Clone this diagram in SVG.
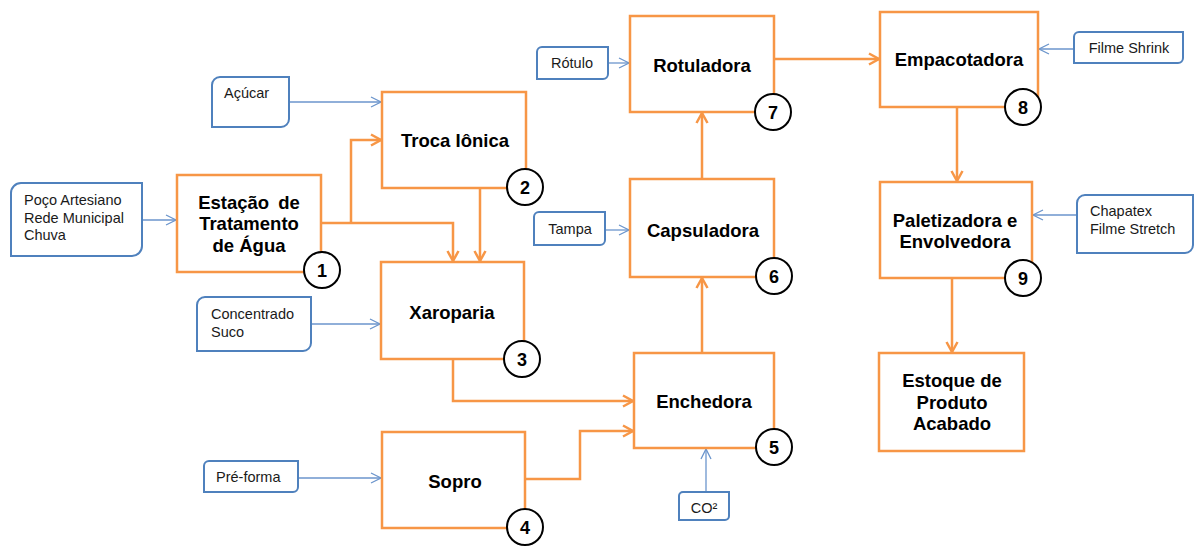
<svg xmlns="http://www.w3.org/2000/svg" width="1195" height="547" viewBox="0 0 1195 547">
<style>
.box{fill:#fff;stroke:#F79646;stroke-width:2.5}
.inp{fill:#fff;stroke:#4F81BD;stroke-width:2}
.num{fill:#fff;stroke:#000;stroke-width:2}
.t{font-family:"Liberation Sans",Arial,sans-serif;font-weight:bold;font-size:18.5px;fill:#000;text-anchor:middle}
.n{font-family:"Liberation Sans",Arial,sans-serif;font-weight:bold;font-size:18px;fill:#000;text-anchor:middle}
.s{font-family:"Liberation Sans",Arial,sans-serif;font-size:14.5px;fill:#1a1a1a}
.oc{fill:none;stroke:#F79646;stroke-width:2.5;marker-end:url(#ao)}
.bc{fill:none;stroke:#6B95CC;stroke-width:1.3;marker-end:url(#ab)}
</style>
<defs>
<marker id="ao" markerUnits="userSpaceOnUse" markerWidth="14" markerHeight="14" refX="11" refY="7" orient="auto"><path d="M1,1.5 L11,7 L1,12.5" fill="none" stroke="#F79646" stroke-width="2.5"/></marker>
<marker id="ab" markerUnits="userSpaceOnUse" markerWidth="14" markerHeight="14" refX="11" refY="7" orient="auto"><path d="M1,2 L11,7 L1,12" fill="none" stroke="#6B95CC" stroke-width="1.3"/></marker>
</defs>
<g id="connectors">
<path class="oc" d="M321,223 H453 V261"/>
<path class="oc" d="M351,223 V140 H381"/>
<path class="oc" d="M480,188 V261"/>
<path class="oc" d="M453,359 V401 H633"/>
<path class="oc" d="M525,479 H580 V431 H633"/>
<path class="oc" d="M702,353 V278"/>
<path class="oc" d="M702,179 V113"/>
<path class="oc" d="M774,59 H879"/>
<path class="oc" d="M957,107 V181"/>
<path class="oc" d="M952,278 V352"/>
<path class="bc" d="M142,220 H176"/>
<path class="bc" d="M289,102 H381"/>
<path class="bc" d="M311,324 H380"/>
<path class="bc" d="M298,478 H381"/>
<path class="bc" d="M605,230 H629"/>
<path class="bc" d="M608,63 H629"/>
<path class="bc" d="M706,492 V449"/>
<path class="bc" d="M1074,49 H1039"/>
<path class="bc" d="M1077,215 H1033"/>
</g>
<g id="in-poco"><path class="inp" d="M21,183 H142 V246 A10 10 0 0 1 132,256 H11 V193 A10 10 0 0 1 21,183 Z"/><text class="s" x="24" y="205">Poço Artesiano</text><text class="s" x="24" y="223">Rede Municipal</text><text class="s" x="24" y="240">Chuva</text></g>
<g id="in-acucar"><path class="inp" d="M220,77 H289 V119 A8 8 0 0 1 281,127 H212 V85 A8 8 0 0 1 220,77 Z"/><text class="s" x="224" y="98">Açúcar</text></g>
<g id="in-concentrado"><path class="inp" d="M205,297 H311 V343 A8 8 0 0 1 303,351 H197 V305 A8 8 0 0 1 205,297 Z"/><text class="s" x="211" y="319">Concentrado</text><text class="s" x="211" y="337">Suco</text></g>
<g id="in-preforma"><path class="inp" d="M209,461 H298 V487 A5 5 0 0 1 293,492 H204 V466 A5 5 0 0 1 209,461 Z"/><text class="s" x="216" y="482">Pré-forma</text></g>
<g id="in-tampa"><path class="inp" d="M539,212 H605 V240 A5 5 0 0 1 600,245 H534 V217 A5 5 0 0 1 539,212 Z"/><text class="s" x="570" y="234" text-anchor="middle">Tampa</text></g>
<g id="in-rotulo"><path class="inp" d="M542,47 H608 V74 A5 5 0 0 1 603,79 H537 V52 A5 5 0 0 1 542,47 Z"/><text class="s" x="572" y="68" text-anchor="middle">Rótulo</text></g>
<g id="in-co2"><path class="inp" d="M683,492 H729 V516 A4 4 0 0 1 725,520 H679 V496 A4 4 0 0 1 683,492 Z"/><text class="s" x="704" y="513" text-anchor="middle">CO²</text></g>
<g id="in-shrink"><path class="inp" d="M1079,32 H1183 V58 A5 5 0 0 1 1178,63 H1074 V37 A5 5 0 0 1 1079,32 Z"/><text class="s" x="1129" y="53" text-anchor="middle">Filme Shrink</text></g>
<g id="in-chapatex"><path class="inp" d="M1085,195 H1193 V245 A8 8 0 0 1 1185,253 H1077 V203 A8 8 0 0 1 1085,195 Z"/><text class="s" x="1090" y="216">Chapatex</text><text class="s" x="1090" y="234">Filme Stretch</text></g>
<g id="n1"><rect class="box" x="177" y="175" width="144" height="97"/><text class="t" x="249" y="208.5" word-spacing="4">Estação de</text><text class="t" x="249" y="229.5">Tratamento</text><text class="t" x="249" y="251.5">de Água</text><circle class="num" cx="322" cy="270" r="18"/><text class="n" x="322" y="276.5">1</text></g>
<g id="n2"><rect class="box" x="382" y="92" width="144" height="96"/><text class="t" x="455" y="147">Troca Iônica</text><circle class="num" cx="525" cy="187" r="18"/><text class="n" x="525" y="193.5">2</text></g>
<g id="n3"><rect class="box" x="381" y="262" width="143" height="97"/><text class="t" x="452" y="318.5">Xaroparia</text><circle class="num" cx="522" cy="359" r="18"/><text class="n" x="522" y="365.5">3</text></g>
<g id="n4"><rect class="box" x="382" y="432" width="143" height="96"/><text class="t" x="455" y="487.5">Sopro</text><circle class="num" cx="525" cy="527" r="18"/><text class="n" x="525" y="533.5">4</text></g>
<g id="n5"><rect class="box" x="634" y="353" width="140" height="95"/><text class="t" x="704" y="407.5">Enchedora</text><circle class="num" cx="774" cy="447" r="18"/><text class="n" x="774" y="453.5">5</text></g>
<g id="n6"><rect class="box" x="630" y="179" width="144" height="98"/><text class="t" x="703" y="236.5">Capsuladora</text><circle class="num" cx="774" cy="276" r="18"/><text class="n" x="774" y="282.5">6</text></g>
<g id="n7"><rect class="box" x="630" y="16" width="144" height="96"/><text class="t" x="702" y="71.5">Rotuladora</text><circle class="num" cx="773" cy="112" r="18"/><text class="n" x="773" y="118.5">7</text></g>
<g id="n8"><rect class="box" x="880" y="12" width="158" height="95"/><text class="t" x="959" y="65.5">Empacotadora</text><circle class="num" cx="1023" cy="107" r="18"/><text class="n" x="1023" y="113.5">8</text></g>
<g id="n9"><rect class="box" x="880" y="182" width="152" height="96"/><text class="t" x="955" y="226.5">Paletizadora e</text><text class="t" x="955" y="247.5">Envolvedora</text><circle class="num" cx="1023" cy="278" r="18"/><text class="n" x="1023" y="284.5">9</text></g>
<g id="estoque"><rect class="box" x="879" y="353" width="145" height="98"/><text class="t" x="952" y="386.5">Estoque de</text><text class="t" x="952" y="408.5">Produto</text><text class="t" x="952" y="429.5">Acabado</text></g>
</svg>
